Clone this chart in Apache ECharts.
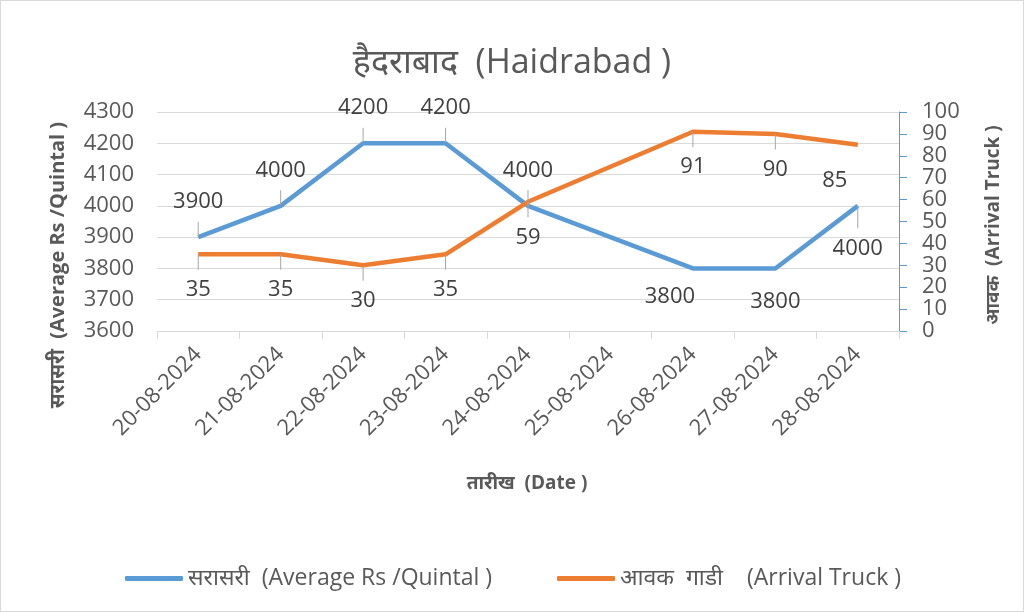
<!DOCTYPE html>
<html>
<head>
<meta charset="utf-8">
<script src="https://cdn.jsdelivr.net/npm/echarts@6/dist/echarts.min.js"></script>
<style>
html,body{margin:0;padding:0;background:#fff;}
#chart{width:1022px;height:610px;border:1px solid #d9d9d9;}
</style>
</head>
<body>
<div id="chart"></div>
<script>
const categories = ['20-08-2024','21-08-2024','22-08-2024','23-08-2024','24-08-2024','25-08-2024','26-08-2024','27-08-2024','28-08-2024'];
const avgPrice = [3900, 4000, 4200, 4200, 4000, null, 3800, 3800, 4000];
const arrivals = [35, 35, 30, 35, 59, null, 91, 90, 85];
const priceName = 'सरासरी  (Average Rs /Quintal )';
const arrivalName = 'आवक  गाडी    (Arrival Truck )';
const titleText = 'हैदराबाद  (Haidrabad )';
const leftAxisTitle = 'सरासरी  (Average Rs /Quintal )';
const rightAxisTitle = 'आवक  (Arrival Truck )';
const xAxisTitle = 'तारीख  (Date )';

// label placement per point (style only)
const T = { pos: 'top', leader: 15 };
const B = { pos: 'bottom', leader: 15 };
const priceLabelSpec = [T, T, T, T, T, null,
  { pos: 'bottom', leader: 0, dist: 16, dx: -23 },
  { pos: 'bottom', leader: 0, dist: 21 },
  { pos: 'bottom', leader: 22 }];
const arrivalLabelSpec = [B, B, B, B, B, null, B, B,
  { pos: 'bottom', leader: 0, dist: 23, dx: -23 }];

const txt = '#595959';
const font = "'Open Sans', 'Noto Sans', sans-serif";
const richStyle = {
  v: { fontSize: 22, lineHeight: 24, color: '#404040', fontFamily: font },
  s: { height: 8, lineHeight: 8 },
  l15: { width: 1, height: 15, lineHeight: 15, backgroundColor: '#a6a6a6' },
  l22: { width: 1, height: 22, lineHeight: 22, backgroundColor: '#a6a6a6' }
};

function mkData(vals, specs){
  return vals.map((v,i)=>{
    if (v === null) return null;
    const sp = specs[i];
    let fmt;
    if (!sp.leader) fmt = '{v|' + v + '}';
    else if (sp.pos === 'top') fmt = '{v|' + v + '}\n{s|}\n{l' + sp.leader + '|}';
    else fmt = '{l' + sp.leader + '|}\n{s|}\n{v|' + v + '}';
    return { value: v, label: {
      position: sp.pos, distance: sp.dist || 0, offset: [sp.dx || 0, 0],
      formatter: fmt } };
  });
}

const chart = echarts.init(document.getElementById('chart'));
chart.setOption({
  animation: false,
  textStyle: { fontFamily: font },
  title: {
    text: titleText, left: 'center', top: 40,
    textStyle: { fontSize: 34, fontWeight: 'normal', color: txt, fontFamily: font }
  },
  legend: [
    { data: [priceName], left: 119, top: 561, itemWidth: 58, itemHeight: 5, icon: 'roundRect',
      textStyle: { fontSize: 23, color: txt, fontFamily: font } },
    { data: [arrivalName], left: 551, top: 561, itemWidth: 58, itemHeight: 5, icon: 'roundRect',
      textStyle: { fontSize: 23, color: txt, fontFamily: font } }
  ],
  grid: { left: 156, right: 124, top: 111, bottom: 280, containLabel: false },
  xAxis: {
    type: 'category', data: categories, boundaryGap: true,
    axisLine: { lineStyle: { color: '#d9d9d9', width: 1 } },
    axisTick: { show: true, length: 8, lineStyle: { color: '#d9d9d9' } },
    axisLabel: { rotate: 45, fontSize: 22, color: txt, margin: 20, interval: 0 }
  },
  yAxis: [
    { type: 'value', min: 3600, max: 4300, interval: 100,
      axisLine: { show: false }, axisTick: { show: false },
      axisLabel: { fontSize: 22, color: txt, margin: 23, formatter: v => String(v) },
      splitLine: { lineStyle: { color: '#d9d9d9', width: 1 } } },
    { type: 'value', min: 0, max: 100, interval: 10, position: 'right',
      axisLine: { show: true, lineStyle: { color: '#5b9bd5', width: 1 } },
      axisTick: { show: true, inside: false, length: 8, lineStyle: { color: '#5b9bd5' } },
      axisLabel: { fontSize: 22, color: txt, margin: 23, formatter: v => String(v) },
      splitLine: { show: false } }
  ],
  graphic: [
    { type: 'text', x: 57, y: 264, rotation: Math.PI/2, style: {
      text: leftAxisTitle, fontSize: 20, fontWeight: 'bold', fill: txt, fontFamily: font,
      align: 'center', verticalAlign: 'middle' } },
    { type: 'text', x: 993, y: 224, rotation: Math.PI/2, style: {
      text: rightAxisTitle, fontSize: 19, fontWeight: 'bold', fill: txt, fontFamily: font,
      align: 'center', verticalAlign: 'middle' } },
    { type: 'text', x: 526, y: 483, style: {
      text: xAxisTitle, fontSize: 19, fontWeight: 'bold', fill: txt, fontFamily: font,
      align: 'center', verticalAlign: 'middle' } }
  ],
  series: [
    { name: priceName, type: 'line', yAxisIndex: 0, data: mkData(avgPrice, priceLabelSpec),
      connectNulls: true, symbol: 'circle', symbolSize: 1, showSymbol: true,
      lineStyle: { color: '#5b9bd5', width: 4.5 }, itemStyle: { color: '#5b9bd5' },
      label: { show: true, color: '#404040', rich: richStyle } },
    { name: arrivalName, type: 'line', yAxisIndex: 1, data: mkData(arrivals, arrivalLabelSpec),
      connectNulls: true, symbol: 'circle', symbolSize: 1, showSymbol: true,
      lineStyle: { color: '#ed7d31', width: 4.5 }, itemStyle: { color: '#ed7d31' },
      label: { show: true, color: '#404040', rich: richStyle } }
  ]
});
</script>
</body>
</html>
